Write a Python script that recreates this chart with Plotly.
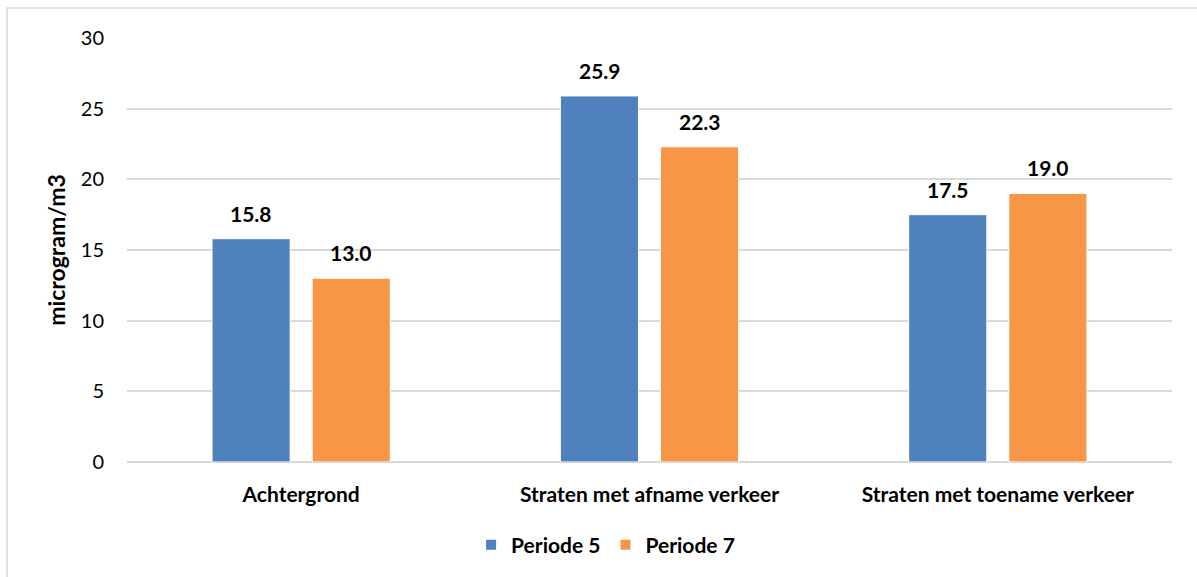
import plotly.graph_objects as go

categories = ["Achtergrond", "Straten met afname verkeer", "Straten met toename verkeer"]
periode_5 = [15.8, 25.9, 17.5]
periode_7 = [13.0, 22.3, 19.0]
y_ticks = [0, 5, 10, 15, 20, 25, 30]

BLUE = "#4F81BD"
ORANGE = "#F79646"
FONT = "Lato, 'Open Sans', sans-serif"

fig = go.Figure()
fig.add_trace(go.Bar(name="Periode 5", x=categories, y=periode_5,
                     marker=dict(color=BLUE, line=dict(color="white", width=1))))
fig.add_trace(go.Bar(name="Periode 7", x=categories, y=periode_7,
                     marker=dict(color=ORANGE, line=dict(color="white", width=1))))

# value labels above each bar
for vals, shift in ((periode_5, -50), (periode_7, 50)):
    for cat, v in zip(categories, vals):
        fig.add_annotation(x=cat, y=v, text=f"<b>{v:.1f}</b>", showarrow=False,
                           xshift=shift, yshift=11, yanchor="bottom",
                           font=dict(family=FONT, size=21, color="black"))

# outer chart frame (runs off the right and bottom edges)
fig.add_shape(type="rect", xref="paper", yref="paper",
              x0=-0.1148, x1=1.2, y0=-0.5, y1=1.0708,
              line=dict(color="#D9D9D9", width=1.5), fillcolor="rgba(0,0,0,0)")

fig.update_layout(
    width=1197, height=577,
    margin=dict(l=127, r=25, t=38, b=115, autoexpand=False),
    paper_bgcolor="white", plot_bgcolor="white",
    barmode="group", bargap=0.425, bargroupgap=0.22,
    font=dict(family=FONT, size=16, color="black"),
    legend=dict(orientation="h", x=0.458, xanchor="center",
                yref="container", y=0.091, yanchor="top",
                font=dict(family=FONT, size=21, color="black", weight="bold"),
                itemsizing="constant", traceorder="normal"),
    xaxis=dict(showline=False, ticks="", ticklabelstandoff=18, automargin=False,
               tickfont=dict(family=FONT, size=21, weight="bold"),
               showgrid=False),
    yaxis=dict(range=[0, 30], tickvals=y_ticks, showgrid=True, gridcolor="#D9D9D9",
               gridwidth=1.5, zeroline=True, zerolinecolor="#D9D9D9", zerolinewidth=1.5,
               ticks="", ticklabelstandoff=22, automargin=False,
               tickfont=dict(family=FONT, size=20),
               title=dict(text="<b>microgram/m3</b>", font=dict(family=FONT, size=23),
                          standoff=8)),
)

fig.write_html("out.html")
